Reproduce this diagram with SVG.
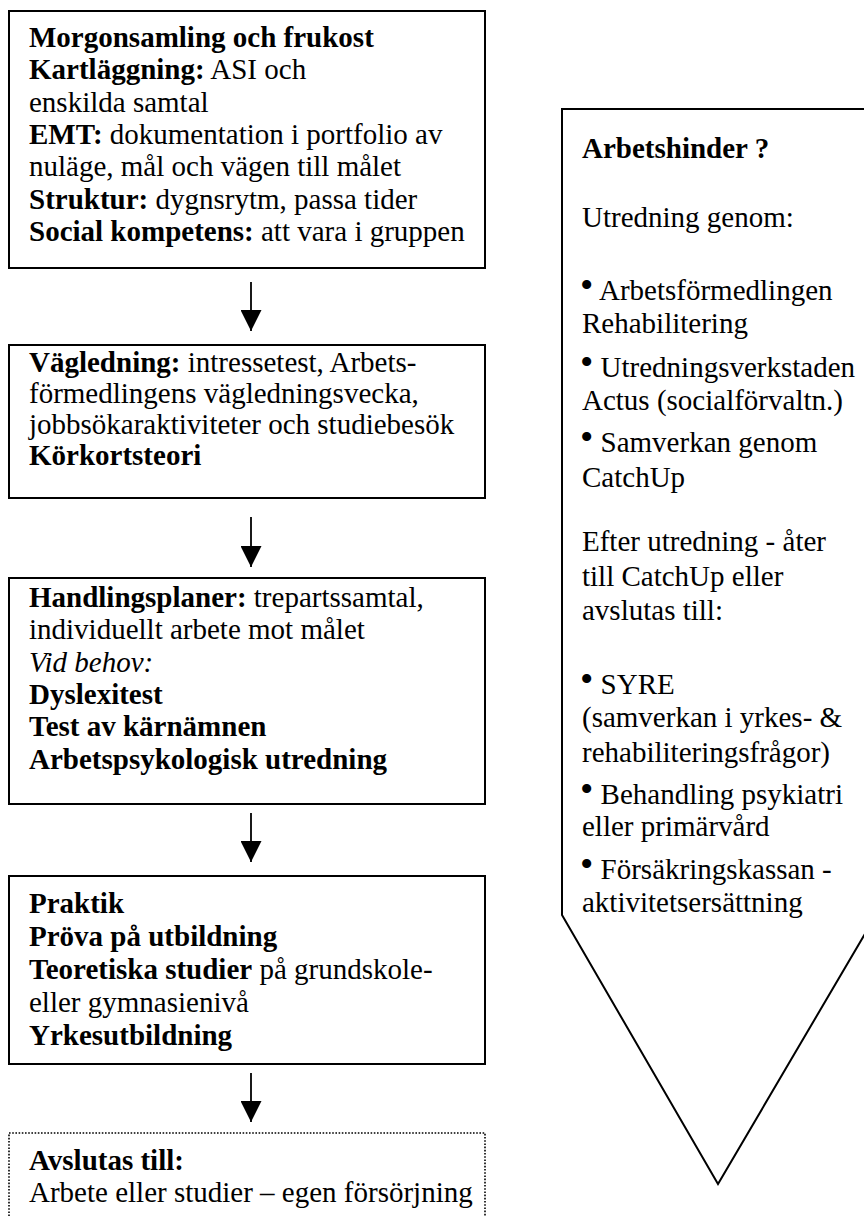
<svg xmlns="http://www.w3.org/2000/svg" width="864" height="1216" viewBox="0 0 864 1216">
<style>
text{font-family:"Liberation Serif","Times New Roman",serif;font-size:29px;fill:#000}
.b{font-weight:bold}
.i{font-style:italic}
.box{fill:#fff;stroke:#000;stroke-width:2}
.dot{fill:#fff;stroke:#000;stroke-width:1.6;stroke-dasharray:1.6 1.6}
.conn{stroke:#000;stroke-width:1.8;fill:none}
.bul{font-size:38px}
</style>
<defs>
<marker id="ah" markerUnits="userSpaceOnUse" markerWidth="22" markerHeight="21" refX="21" refY="10.5" orient="auto">
<path d="M0,0 L21,10.5 L0,21 Z" fill="#000"/>
</marker>
</defs>
<g id="n1">
<rect class="box" x="9" y="11" width="476" height="257"/>
<text x="29" y="47" class="b">Morgonsamling och frukost</text>
<text x="29" y="79"><tspan class="b">Kartläggning:</tspan> ASI och</text>
<text x="29" y="112">enskilda samtal</text>
<text x="29" y="144"><tspan class="b">EMT:</tspan> dokumentation i portfolio av</text>
<text x="29" y="176">nuläge, mål och vägen till målet</text>
<text x="29" y="209"><tspan class="b">Struktur:</tspan> dygnsrytm, passa tider</text>
<text x="29" y="241"><tspan class="b">Social kompetens:</tspan> att vara i gruppen</text>
</g>
<g id="n2">
<rect class="box" x="9" y="345" width="476" height="153"/>
<text x="29" y="372"><tspan class="b">Vägledning:</tspan> intressetest, Arbets-</text>
<text x="29" y="403">förmedlingens vägledningsvecka,</text>
<text x="29" y="434">jobbsökaraktiviteter och studiebesök</text>
<text x="29" y="465" class="b">Körkortsteori</text>
</g>
<g id="n3">
<rect class="box" x="9" y="578" width="476" height="226"/>
<text x="29" y="607"><tspan class="b">Handlingsplaner:</tspan> trepartssamtal,</text>
<text x="29" y="639">individuellt arbete mot målet</text>
<text x="29" y="672" class="i">Vid behov:</text>
<text x="29" y="704" class="b">Dyslexitest</text>
<text x="29" y="736" class="b">Test av kärnämnen</text>
<text x="29" y="769" class="b">Arbetspsykologisk utredning</text>
</g>
<g id="n4">
<rect class="box" x="9" y="876" width="476" height="188"/>
<text x="29" y="913" class="b">Praktik</text>
<text x="29" y="946" class="b">Pröva på utbildning</text>
<text x="29" y="979"><tspan class="b">Teoretiska studier</tspan> på grundskole-</text>
<text x="29" y="1012">eller gymnasienivå</text>
<text x="29" y="1045" class="b">Yrkesutbildning</text>
</g>
<g id="n5">
<rect class="dot" x="9" y="1133" width="476" height="100"/>
<text x="29" y="1170" class="b">Avslutas till:</text>
<text x="29" y="1202">Arbete eller studier – egen försörjning</text>
</g>
<g id="n6">
<path class="box" d="M562,109 L876,109 L876,915 L718,1184 L562,915 Z"/>
<text x="582" y="158" class="b">Arbetshinder ?</text>
<text x="582" y="227">Utredning genom:</text>
<text x="580" y="300"><tspan class="bul" dy="-2">•</tspan><tspan dy="2"> Arbetsförmedlingen</tspan></text>
<text x="582" y="333">Rehabilitering</text>
<text x="580" y="377"><tspan class="bul" dy="-2">•</tspan><tspan dy="2"> Utredningsverkstaden</tspan></text>
<text x="582" y="410">Actus (socialförvaltn.)</text>
<text x="580" y="452"><tspan class="bul" dy="-2">•</tspan><tspan dy="2"> Samverkan genom</tspan></text>
<text x="582" y="487">CatchUp</text>
<text x="582" y="551">Efter utredning - åter</text>
<text x="582" y="586">till CatchUp eller</text>
<text x="582" y="620">avslutas till:</text>
<text x="580" y="694"><tspan class="bul" dy="-2">•</tspan><tspan dy="2"> SYRE</tspan></text>
<text x="582" y="727">(samverkan i yrkes- &amp;</text>
<text x="582" y="762">rehabiliteringsfrågor)</text>
<text x="580" y="804"><tspan class="bul" dy="-2">•</tspan><tspan dy="2"> Behandling psykiatri</tspan></text>
<text x="582" y="836">eller primärvård</text>
<text x="580" y="879"><tspan class="bul" dy="-2">•</tspan><tspan dy="2"> Försäkringskassan -</tspan></text>
<text x="582" y="912">aktivitetsersättning</text>
</g>
<g id="connectors">
<line class="conn" x1="251" y1="282" x2="251" y2="331" marker-end="url(#ah)"/>
<line class="conn" x1="251" y1="517" x2="251" y2="567" marker-end="url(#ah)"/>
<line class="conn" x1="251" y1="813" x2="251" y2="862" marker-end="url(#ah)"/>
<line class="conn" x1="251" y1="1073" x2="251" y2="1122" marker-end="url(#ah)"/>
</g>
</svg>
